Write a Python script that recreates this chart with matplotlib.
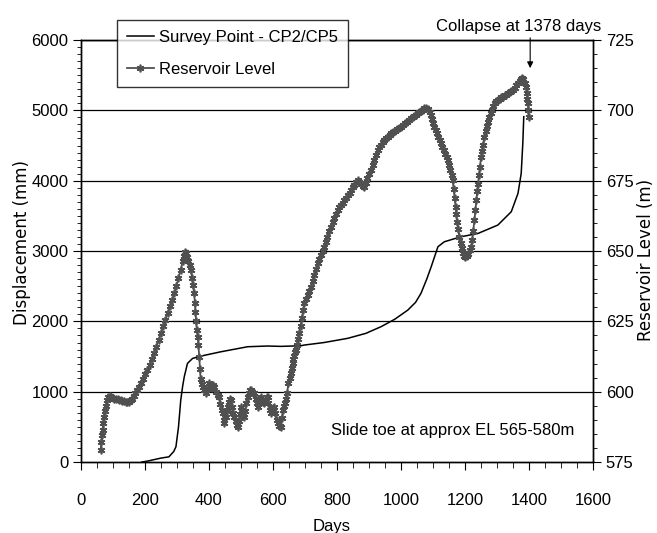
import matplotlib
matplotlib.use('Agg')
import matplotlib.pyplot as plt
from matplotlib.ticker import MultipleLocator

plt.rcParams['font.family'] = ['Liberation Sans', 'DejaVu Sans']

# Survey point CP2/CP5 displacement (mm)
survey_days = [190, 212, 250, 275, 290, 297, 305, 312, 318, 323, 333, 349, 375, 437,
               521, 583, 625, 687, 698, 760, 833, 890, 937, 980, 1021, 1045, 1062,
               1080, 1094, 1115, 1135, 1187, 1240, 1302, 1344, 1365, 1375, 1380, 1383]
survey_disp = [0, 18, 57, 75, 150, 218, 500, 880, 1080, 1213, 1403, 1474, 1507, 1568,
               1640, 1650, 1645, 1654, 1664, 1700, 1759, 1830, 1924, 2030, 2161, 2270, 2398,
               2600, 2777, 3061, 3132, 3203, 3250, 3369, 3559, 3820, 4104, 4531, 4910]

# Reservoir level (m)
res_days = [
    62, 64, 66, 68, 70, 72, 75, 78, 81, 85,
    90, 95, 100, 105, 110, 115, 120, 125, 130, 135, 140, 145, 151, 156, 160, 165, 170,
    175, 181, 187, 194, 201, 208, 215, 222, 229, 236, 243, 250, 257, 264, 271, 278,
    285, 292, 298, 305, 312, 318, 322, 325, 328, 332, 336, 340, 344, 347, 350, 354,
    356, 358, 360, 362, 365, 367, 370, 372, 374, 377, 380, 385,
    391, 396, 401, 405, 410, 414, 417, 422, 427, 432, 436, 440, 443, 446, 448, 452,
    455, 458, 462, 466, 469, 472, 476, 479, 483, 487, 490, 493, 496, 500, 503, 507,
    510, 513, 517, 521, 525, 528, 531, 535, 539, 542, 546, 549, 552, 556, 559, 562,
    566, 569, 573, 576, 580, 583, 586, 590, 594, 597, 600, 604, 607, 611, 615, 619,
    622, 625, 628, 630, 634, 637, 640, 644,
    648, 652, 656, 659, 661, 664, 667, 670, 672, 675, 678, 682, 686, 690, 694, 698,
    703, 708, 713, 719, 724, 729, 735, 740, 745, 750, 755, 760, 765, 770, 776, 781,
    786, 792, 797, 802, 807, 812, 818, 823, 828, 833, 839, 844, 849, 854, 860, 865,
    870, 875, 880, 885, 890, 895, 900, 906, 911, 916, 922, 927, 932, 937, 943, 948,
    953, 958, 964, 969, 975, 981, 988, 994, 1000, 1006, 1012, 1018, 1025, 1031, 1036,
    1041, 1046, 1052, 1057, 1062, 1068, 1073, 1078, 1083, 1089,
    1093, 1097, 1100, 1104, 1108, 1112, 1116, 1120, 1125, 1129, 1133, 1138, 1142, 1146,
    1150, 1154, 1158, 1161, 1164, 1167, 1170, 1172, 1175, 1178, 1182, 1186, 1189, 1193,
    1197, 1200, 1205, 1210, 1215, 1219, 1222, 1225, 1229, 1232, 1235, 1238, 1240, 1243,
    1246, 1250, 1253, 1256, 1260, 1264, 1268, 1272, 1276, 1280, 1284, 1288, 1292, 1297,
    1302, 1308, 1313, 1318, 1323, 1328, 1334, 1339, 1344, 1349, 1355, 1360, 1365, 1370,
    1374, 1378, 1382, 1386, 1391, 1393, 1394, 1396, 1397, 1398]
res_level = [
    579.3, 582.0, 584.5, 586.5, 589.0, 591.0, 593.0, 595.0, 597.0, 598.2,
    598.5, 598.0, 597.8, 597.6, 597.5, 597.3, 597.2, 597.0, 596.8, 596.6, 596.5, 596.4,
    596.5, 597.0, 597.5, 598.4, 599.5,
    600.5, 601.7, 603.0, 604.5, 606.2, 607.7, 609.6, 611.6, 613.6, 616.0, 618.4, 620.8,
    623.2, 625.5, 627.9, 630.3, 632.6, 635.0, 637.5, 640.4, 643.3, 646.3, 648.3, 649.5,
    649.2, 648.0, 646.5, 645.0, 643.3, 640.5, 638.0, 635.0, 631.5, 628.5, 625.0, 622.0,
    619.6, 616.5, 612.4, 608.0, 604.5, 602.8, 601.8, 600.5,
    599.4, 601.0, 603.0, 602.0, 601.3, 602.5, 601.8, 600.0, 599.0, 598.2, 595.5, 593.5,
    592.3, 590.0, 588.8, 591.0, 593.0, 594.7, 596.5, 597.5, 597.0, 594.5, 592.5, 591.1,
    589.5, 588.2, 587.6, 589.5, 592.0, 594.7, 593.0, 591.5, 591.1, 593.0, 596.0, 598.2,
    599.5, 600.6, 600.6, 600.0, 599.6, 599.4, 597.5, 596.0, 594.7, 596.0, 597.5, 598.2,
    597.0, 596.5, 595.9, 597.0, 598.0, 598.2, 596.0, 593.5, 592.3, 593.5, 594.2, 594.7,
    592.5, 590.0, 588.8, 588.0, 587.8, 587.6, 590.5, 593.5, 595.0, 595.9, 597.5, 599.4,
    603.0, 604.8, 606.5, 608.3, 610.1, 611.5, 612.7, 614.0, 614.8, 616.5, 618.6, 620.8,
    623.5, 626.3, 628.9, 631.4, 632.8, 634.3, 635.8, 637.3, 639.5, 641.6, 643.6, 645.6,
    647.0, 648.6, 650.0, 651.5, 653.3, 655.1, 657.0, 658.7, 660.2, 661.8, 663.2, 664.6,
    665.5, 666.3, 667.2, 668.1, 669.0, 669.9, 670.8, 671.7, 672.6, 673.5, 674.4, 675.3,
    674.5, 673.8, 673.2, 672.9, 674.3, 675.8, 677.3, 678.8, 680.6, 682.4, 684.2, 685.9,
    686.8, 687.7, 688.6, 689.5, 690.0, 690.6, 691.2, 691.8, 692.3, 692.8, 693.3, 693.7,
    694.2, 694.8, 695.4, 696.0, 696.6, 697.2, 697.6, 698.0, 698.5, 698.9, 699.3, 699.8,
    700.2, 700.7, 700.8, 700.3, 699.5,
    698.3, 697.0, 695.6, 694.2, 693.0, 691.8, 690.5, 689.4, 688.3, 687.0, 685.8, 684.6,
    683.5, 682.4, 680.6, 678.8, 677.0, 675.3, 672.0, 668.7, 665.8, 663.0, 660.2, 658.0,
    655.1, 652.8, 651.0, 649.2, 648.2, 648.0, 648.3, 649.0, 650.2, 651.5, 654.0, 657.0,
    661.0, 664.5, 668.0, 671.5, 674.0, 677.0, 680.0, 683.5, 685.6, 687.8, 690.7, 692.5,
    694.3, 696.0, 697.8, 699.0, 700.2, 701.4, 702.5, 703.2, 703.7, 704.2, 704.6, 704.9,
    705.3, 705.6, 706.0, 706.4, 706.7, 707.4, 708.1, 708.9, 709.6, 710.4, 711.0, 711.4,
    711.0, 709.8, 708.4, 706.0, 704.0, 702.5, 700.0, 697.8]

fig = plt.figure(figsize=(6.57, 5.33), dpi=100)
ax = fig.add_axes([0.123, 0.133, 0.780, 0.792])
ax2 = ax.twinx()

for yv in range(1000, 6001, 1000):
    ax.axhline(yv, color='black', lw=0.9, zorder=1)

l1, = ax.plot(survey_days, survey_disp, color='black', lw=1.1, zorder=3)
l2, = ax2.plot(res_days, res_level, color='#505050', lw=1.3, marker=(6, 2, 0),
               markersize=5.5, markeredgewidth=1.2, zorder=3)

ax.set_xlim(0, 1600)
ax.set_ylim(0, 6000)
ax2.set_ylim(575, 725)

ax.xaxis.set_major_locator(MultipleLocator(200))
ax.xaxis.set_minor_locator(MultipleLocator(50))
ax.yaxis.set_major_locator(MultipleLocator(1000))
ax.yaxis.set_minor_locator(MultipleLocator(100))
ax2.yaxis.set_major_locator(MultipleLocator(25))
ax2.yaxis.set_minor_locator(MultipleLocator(5))

ax.tick_params(axis='x', which='major', length=6, pad=16, labelsize=12)
ax.tick_params(axis='x', which='minor', length=4)
ax.tick_params(axis='y', which='major', length=6, pad=3, labelsize=12)
ax.tick_params(axis='y', which='minor', length=3)
ax2.tick_params(axis='y', which='major', length=6, pad=3, labelsize=12)
ax2.tick_params(axis='y', which='minor', length=3)

for a in (ax, ax2):
    for s in a.spines.values():
        s.set_linewidth(1.0)

ax.set_xlabel('Days', fontsize=12)
ax.xaxis.set_label_coords(0.49, -0.135)
ax.set_ylabel('Displacement (mm)', fontsize=12, family=['DejaVu Sans'])
ax.yaxis.set_label_coords(-0.097, 0.52)
ax2.set_ylabel('Reservoir Level (m)', fontsize=12, family=['DejaVu Sans'], rotation=90)
ax2.yaxis.set_label_coords(1.085, 0.48)

ax.text(781, 455, 'Slide toe at approx EL 565-580m', fontsize=12, va='center', ha='left')
ax.text(1366, 6080, 'Collapse at 1378 days', fontsize=12, ha='center', va='bottom',
        clip_on=False)
ax.annotate('', xy=(1403, 5600), xytext=(1403, 6030), annotation_clip=False,
            arrowprops=dict(arrowstyle='-|>', color='black', lw=0.8, mutation_scale=9,
                            shrinkA=0, shrinkB=0))

leg = fig.legend([l1, l2], ['Survey Point - CP2/CP5', 'Reservoir Level'],
                 loc='upper left', bbox_to_anchor=(0.178, 0.962), borderaxespad=0,
                 fontsize=12, frameon=True, fancybox=False, edgecolor='black',
                 handlelength=1.6, handletextpad=0.3, borderpad=0.6, labelspacing=1.0)
leg.get_frame().set_linewidth(1.0)

fig.savefig('out.png', dpi=100)
